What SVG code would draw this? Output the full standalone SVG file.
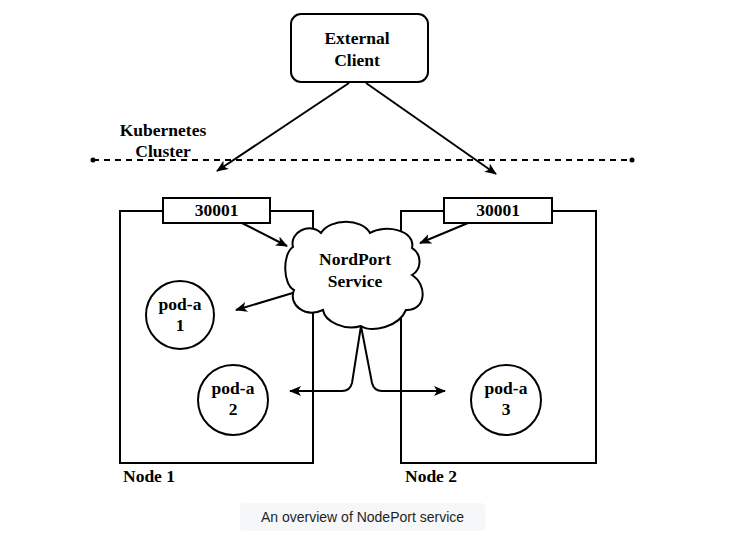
<svg xmlns="http://www.w3.org/2000/svg" width="737" height="543" viewBox="0 0 737 543">
<style>
.t{font-family:"Liberation Serif","Times New Roman",serif;font-weight:bold;font-size:17.5px;fill:#000;text-anchor:middle}
.tl{font-family:"Liberation Serif","Times New Roman",serif;font-weight:bold;font-size:17.5px;fill:#000}
.s{fill:#fff;stroke:#000;stroke-width:2}
.c{fill:none;stroke:#000;stroke-width:2}
.cap{font-family:"Liberation Sans",Arial,sans-serif;font-size:14px;fill:#1f1f1f;text-anchor:middle}
</style>
<defs>
<marker id="ah" viewBox="0 0 12 10" refX="11" refY="5" markerWidth="12" markerHeight="10" markerUnits="userSpaceOnUse" orient="auto">
<path d="M0,0 L12,5 L0,10 L3,5 Z" fill="#000"/>
</marker>
</defs>
<rect width="737" height="543" fill="#fff"/>
<g id="node1">
<rect class="s" x="120" y="211" width="193" height="252"/>
<text class="tl" x="123" y="482">Node 1</text>
</g>
<g id="node2">
<rect class="s" x="401" y="211" width="195" height="252"/>
<text class="tl" x="405" y="482">Node 2</text>
</g>
<g id="port1">
<rect class="s" x="163" y="198" width="107" height="25"/>
<text class="t" x="216.5" y="216">30001</text>
</g>
<g id="port2">
<rect class="s" x="444" y="198" width="108" height="25"/>
<text class="t" x="498" y="216">30001</text>
</g>
<g id="external-client">
<rect class="s" x="291" y="14" width="137" height="68" rx="10"/>
<text class="t" x="357" y="44">External</text>
<text class="t" x="357" y="66">Client</text>
</g>
<g id="cluster-label">
<text class="t" x="163" y="136">Kubernetes</text>
<text class="t" x="163" y="157">Cluster</text>
</g>
<g id="cluster-boundary">
<line x1="93" y1="160" x2="632" y2="160" stroke="#000" stroke-width="2" stroke-dasharray="6 5"/>
<circle cx="93" cy="160" r="2.5" fill="#000"/>
<circle cx="632" cy="160" r="2.5" fill="#000"/>
</g>
<g id="pod-a-1">
<circle class="s" cx="180" cy="315" r="34"/>
<text class="t" x="180" y="310">pod-a</text>
<text class="t" x="180" y="331">1</text>
</g>
<g id="pod-a-2">
<circle class="s" cx="233" cy="400" r="35"/>
<text class="t" x="233" y="394">pod-a</text>
<text class="t" x="233" y="415">2</text>
</g>
<g id="pod-a-3">
<circle class="s" cx="506" cy="400" r="35"/>
<text class="t" x="506" y="394">pod-a</text>
<text class="t" x="506" y="415">3</text>
</g>
<g id="connectors">
<line class="c" x1="349" y1="83" x2="217" y2="171" marker-end="url(#ah)"/>
<line class="c" x1="366" y1="83" x2="496" y2="174" marker-end="url(#ah)"/>
<line class="c" x1="242" y1="223" x2="287" y2="246" marker-end="url(#ah)"/>
<line class="c" x1="468" y1="223" x2="420" y2="243" marker-end="url(#ah)"/>
<line class="c" x1="296" y1="292" x2="236" y2="310" marker-end="url(#ah)"/>
<path class="c" d="M361,326 L352,383 Q350,391 342,391 L290,391" marker-end="url(#ah)"/>
<path class="c" d="M361,326 L372,383 Q374,391 382,391 L445,391" marker-end="url(#ah)"/>
</g>
<g id="nordport-service">
<path class="s" d="M293,247 C289,232 310,222 321,233 C330,218 362,218 370,233 C385,224 416,230 412,248 C423,255 421,270 412,275 C428,285 426,311 406,310 C399,327 372,333 361,326 C345,331 325,322 323,310 C305,318 288,305 294,290 C283,285 282,254 293,247 Z"/>
<text class="t" x="355" y="265">NordPort</text>
<text class="t" x="355" y="287">Service</text>
</g>
<g id="caption">
<rect x="240" y="503" width="245" height="28" rx="4" fill="#f6f7f9"/>
<text class="cap" x="362.5" y="522">An overview of NodePort service</text>
</g>
</svg>
